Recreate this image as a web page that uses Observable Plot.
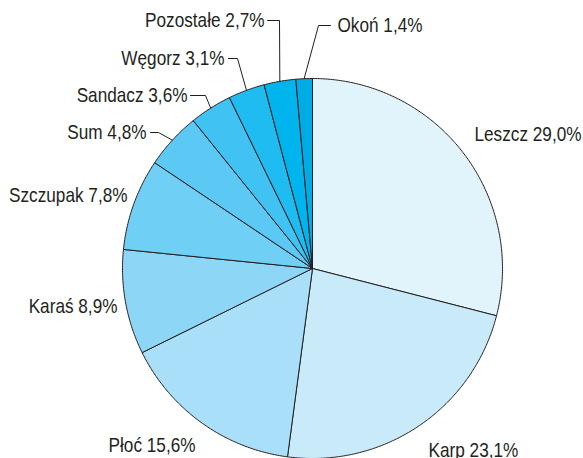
<!DOCTYPE html>
<html>
<head>
<meta charset="utf-8">
<script src="https://cdn.jsdelivr.net/npm/d3@7"></script>
<script src="https://cdn.jsdelivr.net/npm/@observablehq/plot@0.6"></script>
<style>
  html, body { margin: 0; padding: 0; background: #fff; }
  #chart svg { display: block; }
</style>
</head>
<body>
<div id="chart"></div>
<script>
// ---- data ----
const species = ["Leszcz", "Karp", "Płoć", "Karaś", "Szczupak", "Sum", "Sandacz", "Węgorz", "Pozostałe", "Okoń"];
const shares  = [29.0, 23.1, 15.6, 8.9, 7.8, 4.8, 3.6, 3.1, 2.7, 1.4];
const colors  = ["#e1f4fc", "#c8eaf9", "#aadff9", "#8ed6f6", "#6fcff5", "#5bc9f4", "#40c2f2", "#1ebcf0", "#00b5ee", "#00abe6"];

// ---- layout (pixel offsets from pie centre, radius, label placement) ----
const W = 583, H = 458, CX = 312, CY = 268, R = 190;
const TEXT_SQUEEZE = 0.86; // condensed look of the original typeface
// label anchor offsets (dx, dy in px from centre), text anchor, optional leader elbow/end
const labelLayout = [
  {dx: 162, dy: -134, anchor: "start"},
  {dx: 116, dy: 182, anchor: "start"},
  {dx: -117, dy: 177, anchor: "end"},
  {dx: -195, dy: 38, anchor: "end"},
  {dx: -185, dy: -73, anchor: "end"},
  {dx: -166, dy: -136, anchor: "end", elbow: [-154, -136], end: [-162, -136]},
  {dx: -125, dy: -173, anchor: "end", elbow: [-107, -173], end: [-122, -173]},
  {dx: -88, dy: -210, anchor: "end", elbow: [-75, -210], end: [-84, -210]},
  {dx: -48, dy: -248, anchor: "end", elbow: [-33, -248], end: [-45, -248]},
  {dx: 25, dy: -243, anchor: "start", elbow: [6, -243], end: [18, -243]}
];

const fmt = v => v.toFixed(1).replace(".", ",") + "%";
const total = d3.sum(shares);

// slice angles (clockwise from 12 o'clock), unit coordinates with y up
const polar = (a, r) => ({x: r * Math.sin(a), y: r * Math.cos(a)});
let acc = 0;
const slices = species.map((name, i) => {
  const a0 = acc / total * 2 * Math.PI;
  acc += shares[i];
  const a1 = acc / total * 2 * Math.PI;
  return {name, value: shares[i], a0, a1, mid: (a0 + a1) / 2};
});

const polyPts = [];
for (const s of slices) {
  polyPts.push({name: s.name, x: 0, y: 0});
  const n = Math.max(2, Math.ceil((s.a1 - s.a0) / (Math.PI / 360)));
  for (let k = 0; k <= n; k++) {
    const p = polar(s.a0 + (s.a1 - s.a0) * k / n, 1);
    polyPts.push({name: s.name, ...p});
  }
  polyPts.push({name: s.name, x: 0, y: 0});
}

const labels = slices.map((s, i) => {
  const L = labelLayout[i];
  return {text: `${s.name} ${fmt(s.value)}`, x: L.dx / R, y: -L.dy / R, anchor: L.anchor};
});

const leaders = [];
slices.forEach((s, i) => {
  const L = labelLayout[i];
  if (!L.elbow) return;
  const p = polar(s.mid, 1);
  leaders.push({id: s.name, x: p.x, y: p.y});
  leaders.push({id: s.name, x: L.elbow[0] / R, y: -L.elbow[1] / R});
  leaders.push({id: s.name, x: L.end[0] / R, y: -L.end[1] / R});
});

const font = "'Liberation Sans', Arial, sans-serif";

const chart = Plot.plot({
  width: W,
  height: H,
  margin: 0,
  style: {background: "#fff", fontFamily: font},
  x: {domain: [-CX / R, (W - CX) / R], range: [0, W], axis: null},
  y: {domain: [-(H - CY) / R, CY / R], range: [H, 0], axis: null},
  color: {domain: species, range: colors},
  marks: [
    Plot.line(polyPts, {x: "x", y: "y", z: "name", fill: "name", stroke: "#231f20", strokeWidth: 1, strokeLinejoin: "round"}),
    Plot.line(leaders, {x: "x", y: "y", z: "id", stroke: "#231f20", strokeWidth: 1}),
    Plot.text(labels.filter(d => d.anchor === "start"), {x: "x", y: "y", text: "text", textAnchor: "start", fontSize: 20, fill: "#231f20", fontFamily: font, lineAnchor: "middle"}),
    Plot.text(labels.filter(d => d.anchor === "end"), {x: "x", y: "y", text: "text", textAnchor: "end", fontSize: 20, fill: "#231f20", fontFamily: font, lineAnchor: "middle"})
  ]
});

// horizontally condense label glyphs around their anchor points
chart.querySelectorAll('g[aria-label="text"] text').forEach(t => {
  const tr = t.getAttribute("transform");
  if (tr) {
    t.setAttribute("transform", `${tr} scale(${TEXT_SQUEEZE},1)`);
  } else {
    const x = +t.getAttribute("x") || 0, y = +t.getAttribute("y") || 0;
    t.setAttribute("x", 0); t.setAttribute("y", 0);
    t.setAttribute("transform", `translate(${x},${y}) scale(${TEXT_SQUEEZE},1)`);
  }
});

document.getElementById("chart").appendChild(chart);
</script>
</body>
</html>
